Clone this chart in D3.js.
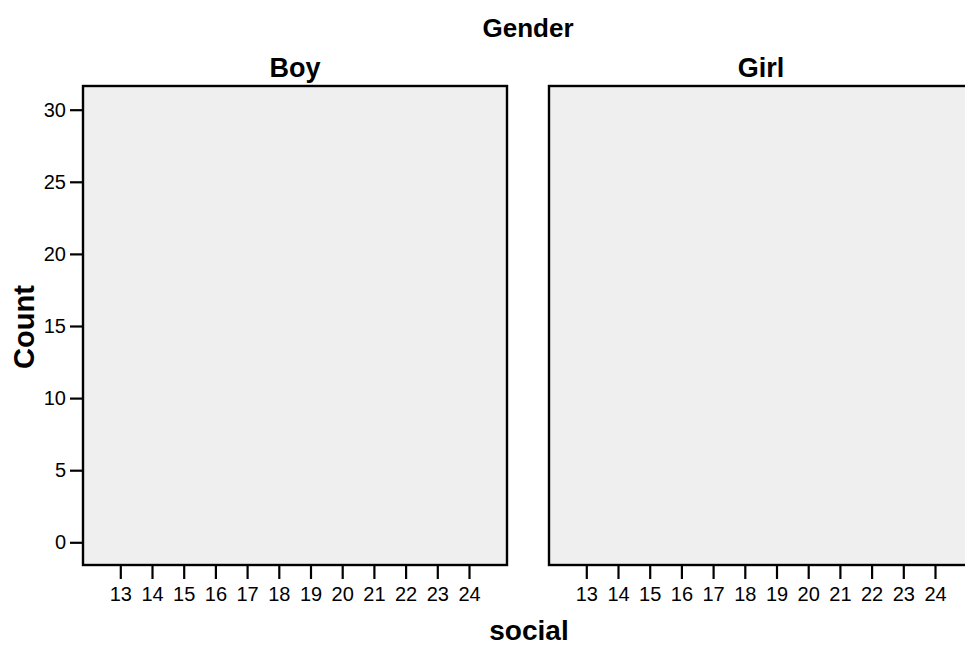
<!DOCTYPE html>
<html>
<head>
<meta charset="utf-8">
<script src="https://cdn.jsdelivr.net/npm/d3@7"></script>
<style>
  html, body { margin: 0; padding: 0; background: #fff; }
  svg { display: block; font-family: Arial, "Liberation Sans", sans-serif; }
</style>
</head>
<body>
<svg id="chart" width="965" height="645"></svg>
<script>
// Panels of the faceted histogram (one per gender)
const genders = ["Boy", "Girl"];
// Histogram bins of "social" per gender: {bin, count}; no cases recorded
const boyCounts = [];
const girlCounts = [];
// Axis ticks
const xTickValues = [13, 14, 15, 16, 17, 18, 19, 20, 21, 22, 23, 24];
const yTickValues = [0, 5, 10, 15, 20, 25, 30];

const svg = d3.select("#chart");

const panelTop = 86, panelBottom = 565, panelW = 424;
const panelLefts = [83, 549];

const y = d3.scaleLinear().domain([0, 30]).range([542.3, 109.7]);
const x = d3.scaleLinear().domain([13, 24]).range([37.3, 386]);

const countsByGender = { Boy: boyCounts, Girl: girlCounts };
const tickFont = "Arial, 'Liberation Sans', sans-serif";

genders.forEach((g, i) => {
  const left = panelLefts[i];
  const p = svg.append("g").attr("transform", `translate(${left},0)`);

  p.append("rect")
    .attr("x", 0).attr("y", panelTop)
    .attr("width", panelW).attr("height", panelBottom - panelTop)
    .attr("fill", "#efefef")
    .attr("stroke", "#000").attr("stroke-width", 2.4);

  // bars
  p.selectAll("rect.bar").data(countsByGender[g]).join("rect")
    .attr("class", "bar")
    .attr("x", d => x(d.bin - 0.5))
    .attr("width", d => x(d.bin + 0.5) - x(d.bin - 0.5))
    .attr("y", d => y(d.count))
    .attr("height", d => y(0) - y(d.count))
    .attr("fill", "#3e58ac").attr("stroke", "#000");

  // panel title
  p.append("text")
    .attr("x", panelW / 2).attr("y", 77)
    .attr("text-anchor", "middle")
    .attr("font-size", 27).attr("font-weight", "bold")
    .text(g);

  // x axis
  const xa = p.append("g")
    .attr("transform", `translate(0,${panelBottom})`)
    .call(d3.axisBottom(x).tickValues(xTickValues).tickSize(14).tickPadding(8).tickSizeOuter(0));
  xa.select(".domain").remove();
  xa.selectAll(".tick line").attr("stroke", "#000").attr("stroke-width", 2.2);
  xa.selectAll(".tick text").attr("font-size", 20).attr("font-family", tickFont).attr("fill", "#000");

  if (i === 0) {
    const ya = p.append("g")
      .call(d3.axisLeft(y).tickValues(yTickValues).tickSize(13).tickPadding(4).tickSizeOuter(0));
    ya.select(".domain").remove();
    ya.selectAll(".tick line").attr("stroke", "#000").attr("stroke-width", 2.2);
    ya.selectAll(".tick text").attr("font-size", 20).attr("font-family", tickFont).attr("fill", "#000");
  }
});

// Facet header and axis titles
svg.append("text")
  .attr("x", 528).attr("y", 37)
  .attr("text-anchor", "middle")
  .attr("font-size", 26).attr("font-weight", "bold")
  .text("Gender");

svg.append("text")
  .attr("x", 529).attr("y", 640)
  .attr("text-anchor", "middle")
  .attr("font-size", 28).attr("font-weight", "bold")
  .text("social");

svg.append("text")
  .attr("transform", "translate(34,327) rotate(-90)")
  .attr("text-anchor", "middle")
  .attr("font-size", 29).attr("font-weight", "bold")
  .text("Count");
</script>
</body>
</html>
